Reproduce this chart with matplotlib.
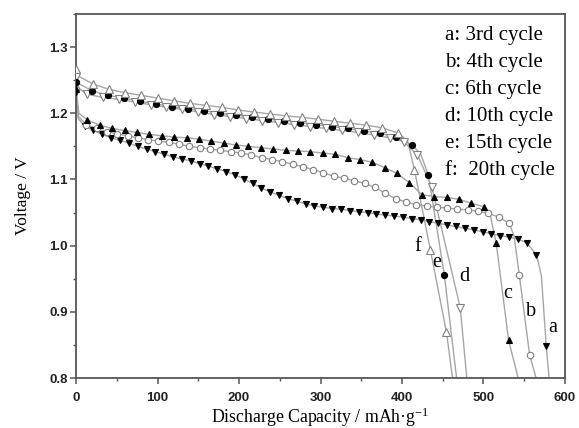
import matplotlib
matplotlib.use('Agg')
import matplotlib.pyplot as plt
from matplotlib.ticker import MultipleLocator
import numpy as np

# discharge capacity (mAh/g) and voltage (V) read at the marker positions
a_cap = [0, 10.5, 21.4, 32.2, 43.1, 53.9, 64.8, 75.6, 86.5, 97.3, 108.2, 119.0, 129.9, 140.7,
         151.6, 162.4, 173.3, 184.1, 195.0, 205.8, 216.7, 227.5, 238.4, 249.2, 260.1, 270.9,
         281.8, 292.6, 303.5, 314.3, 325.2, 336.0, 346.9, 357.7, 368.6, 379.4, 390.3, 401.1,
         412.0, 422.8, 433.7, 444.5, 455.4, 466.2, 477.1, 487.9, 498.8, 509.6, 520.5, 531.3,
         542.2, 553.5, 565.0, 577.0]
a_v = [1.232, 1.181, 1.174, 1.168, 1.163, 1.159, 1.155, 1.150, 1.146, 1.142, 1.138, 1.134,
       1.131, 1.128, 1.124, 1.120, 1.116, 1.112, 1.107, 1.101, 1.094, 1.087, 1.081, 1.076,
       1.071, 1.067, 1.063, 1.060, 1.058, 1.056, 1.055, 1.053, 1.051, 1.050, 1.048, 1.046,
       1.045, 1.043, 1.041, 1.039, 1.036, 1.034, 1.031, 1.029, 1.026, 1.024, 1.021, 1.018,
       1.015, 1.013, 1.010, 1.004, 0.986, 0.848]
a_extra_cap = [2.5, 571.0, 580.5]
a_extra_v = [1.192, 0.955, 0.800]

b_cap = [0, 12.7, 25.3, 38.0, 50.6, 63.3, 75.9, 88.6, 101.2, 113.9, 126.5, 139.2, 151.8,
         164.5, 177.1, 189.8, 202.4, 215.1, 227.7, 240.4, 253.0, 265.7, 278.3, 291.0, 303.6,
         316.3, 328.9, 341.6, 354.2, 366.9, 379.5, 392.2, 404.8, 417.5, 430.1, 442.8, 455.4,
         468.1, 480.7, 493.4, 506.0, 518.7, 531.3, 544.0, 556.6]
b_v = [1.236, 1.183, 1.177, 1.172, 1.169, 1.166, 1.163, 1.160, 1.158, 1.156, 1.153, 1.150,
       1.148, 1.146, 1.144, 1.142, 1.140, 1.137, 1.133, 1.130, 1.127, 1.123, 1.119, 1.115,
       1.110, 1.105, 1.102, 1.098, 1.094, 1.088, 1.079, 1.071, 1.066, 1.062, 1.060, 1.058,
       1.057, 1.055, 1.054, 1.052, 1.049, 1.043, 1.034, 0.955, 0.835]
b_extra_cap = [3.0, 537.5, 564.5]
b_extra_v = [1.195, 1.015, 0.800]

c_cap = [0, 14.0, 29.2, 44.4, 59.6, 74.8, 90.0, 105.2, 120.4, 135.6, 150.8, 166.0, 181.2,
         196.4, 211.6, 226.8, 242.0, 257.2, 272.4, 287.6, 302.8, 318.0, 333.2, 348.4, 363.6,
         378.8, 394.0, 409.2, 424.4, 439.6, 454.8, 470.0, 485.2, 500.4, 515.6, 530.8]
c_v = [1.236, 1.190, 1.182, 1.177, 1.174, 1.171, 1.168, 1.166, 1.164, 1.163, 1.161, 1.158,
       1.155, 1.152, 1.150, 1.148, 1.146, 1.144, 1.143, 1.142, 1.140, 1.138, 1.133, 1.130,
       1.126, 1.118, 1.109, 1.095, 1.077, 1.074, 1.073, 1.070, 1.064, 1.059, 1.004, 0.857]
c_extra_cap = [3.5, 508.0, 542.5]
c_extra_v = [1.200, 1.048, 0.800]

d_cap = [0, 13.0, 32.6, 52.2, 71.8, 91.4, 111.0, 130.6, 150.2, 169.8, 189.4, 209.0, 228.6,
         248.2, 267.8, 287.4, 307.0, 326.6, 346.2, 365.8, 385.4, 402.0, 419.0, 436.5, 471.5]
d_v = [1.255, 1.229, 1.224, 1.221, 1.217, 1.213, 1.209, 1.206, 1.202, 1.198, 1.195, 1.192,
       1.189, 1.186, 1.183, 1.180, 1.177, 1.174, 1.171, 1.167, 1.163, 1.157, 1.137, 1.089,
       0.906]
d_extra_cap = [3.0, 479.5]
d_extra_v = [1.238, 0.800]

e_cap = [0, 19.7, 39.3, 59.0, 78.6, 98.3, 117.9, 137.6, 157.2, 176.9, 196.5, 216.2, 235.8,
         255.5, 275.1, 294.8, 314.4, 334.1, 353.7, 373.4, 393.0, 412.7, 432.3, 452.0]
e_v = [1.247, 1.234, 1.227, 1.223, 1.218, 1.214, 1.210, 1.207, 1.204, 1.200, 1.197, 1.195,
       1.191, 1.189, 1.186, 1.183, 1.180, 1.177, 1.173, 1.170, 1.164, 1.152, 1.107, 0.955]
e_extra_cap = [423.0, 467.0]
e_extra_v = [1.138, 0.800]

f_cap = [0, 21.2, 40.9, 60.6, 80.3, 100.0, 119.7, 139.4, 159.1, 178.8, 198.5, 218.2, 237.9,
         257.6, 277.3, 297.0, 316.7, 336.4, 356.1, 375.8, 395.5, 415.2, 434.9, 454.6]
f_v = [1.267, 1.244, 1.236, 1.231, 1.227, 1.223, 1.219, 1.215, 1.212, 1.209, 1.205, 1.202,
       1.199, 1.196, 1.194, 1.191, 1.188, 1.185, 1.182, 1.178, 1.170, 1.115, 0.993, 0.869]
f_extra_cap = [3.0, 407.0, 462.0]
f_extra_v = [1.256, 1.158, 0.800]

legend_lines = ["a: 3rd cycle", "b: 4th cycle", "c: 6th cycle",
                "d: 10th cycle", "e: 15th cycle", "f:  20th cycle"]
curve_letters = ["a", "b", "c", "d", "e", "f"]
letter_cap = [585, 558, 530, 477, 443, 419.6]
letter_v = [0.876, 0.900, 0.927, 0.953, 0.975, 0.998]

series = [
    (a_cap, a_v, a_extra_cap, a_extra_v, 'v', 'black', 'black', 5.0),
    (b_cap, b_v, b_extra_cap, b_extra_v, 'o', 'white', '#808080', 4.6),
    (c_cap, c_v, c_extra_cap, c_extra_v, '^', 'black', 'black', 5.0),
    (d_cap, d_v, d_extra_cap, d_extra_v, 'v', 'white', '#808080', 5.4),
    (e_cap, e_v, e_extra_cap, e_extra_v, 'o', 'black', 'black', 4.4),
    (f_cap, f_v, f_extra_cap, f_extra_v, '^', 'white', '#808080', 5.4),
]

serif = ['Liberation Serif', 'DejaVu Serif']
sans = ['Liberation Sans', 'DejaVu Sans']
plt.rcParams['mathtext.fontset'] = 'custom'
plt.rcParams['mathtext.rm'] = 'Liberation Serif'
plt.rcParams['mathtext.it'] = 'Liberation Serif:italic'

fig = plt.figure(figsize=(5.79, 4.28), dpi=100)
ax = fig.add_axes([0.1313, 0.1168, 0.8445, 0.8505])

for cap, v, xc, xv, mk, fc, ec, ms in series:
    allc = np.array(list(cap) + list(xc))
    allv = np.array(list(v) + list(xv))
    order = np.argsort(allc)
    ax.plot(allc[order], allv[order], color='#a6a6a6', lw=1.0, zorder=2)
    ax.plot(cap, v, ls='none', marker=mk, ms=ms, mfc=fc, mec=ec, mew=0.8, zorder=3)

for letter, x, y in zip(curve_letters, letter_cap, letter_v):
    ax.text(x, y, letter, family=serif, fontsize=14.5, ha='center', va='center', zorder=4)

for i, line in enumerate(legend_lines):
    ax.text(0.755, 0.942 - i * 0.0742, line, transform=ax.transAxes, family=serif,
            fontsize=15, ha='left', va='center')

ax.set_xlim(0, 600)
ax.set_ylim(0.8, 1.35)
ax.xaxis.set_major_locator(MultipleLocator(100))
ax.xaxis.set_minor_locator(MultipleLocator(50))
ax.yaxis.set_minor_locator(MultipleLocator(0.05))
ax.set_yticks([0.8, 0.9, 1.0, 1.1, 1.2, 1.3])
ax.set_yticklabels(["0.8", "0.9", "1.0", "1.1", "1.2", "1.3"])

for s in ax.spines.values():
    s.set_color('#555555')
    s.set_linewidth(1.3)
ax.tick_params(which='major', direction='out', length=4, width=1.1, color='#555555',
               labelsize=9.5, pad=2)
ax.tick_params(axis='x', which='major', pad=6)
ax.tick_params(which='minor', direction='out', length=2.5, width=1.0, color='#555555')
for lab in ax.get_xticklabels() + ax.get_yticklabels():
    lab.set_family(sans)
    lab.set_fontweight('bold')
    lab.set_color('#222222')

ax.set_xlabel("Discharge Capacity / mAh\u00b7g$^{\\mathrm{-1}}$", family=serif, fontsize=12.8,
              labelpad=1)
ax.set_ylabel("Voltage / V", family=serif, fontsize=12.5, labelpad=13)

plt.savefig("out.png", dpi=100)
